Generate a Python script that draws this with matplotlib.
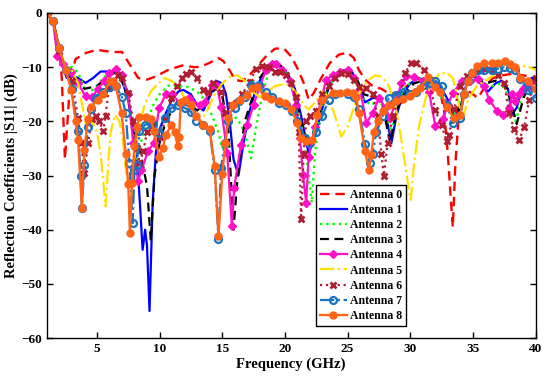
import matplotlib
matplotlib.use('Agg')
import matplotlib.pyplot as plt

plt.rcParams['font.family'] = ['Liberation Serif', 'DejaVu Serif']
plt.rcParams['font.weight'] = 'bold'

# ---- data (GHz, dB) ----
f0 = [1, 1.5, 2, 2.2, 2.45, 2.8, 3.0, 3.3, 4.1, 5.0, 6.2, 7.0, 7.7, 8.3, 9.0, 9.7, 10.7, 11.8, 12.8, 13.3,
      14.0, 14.7, 15.1, 15.65, 16.0, 16.55, 17.1, 17.8, 18.5, 19.2, 19.9, 20.5, 21.0, 21.5, 21.9, 22.3, 22.9,
      23.6, 24.3, 25.0, 25.5, 25.9, 26.4, 27.0, 27.7, 28.4, 29.2, 30.0, 30.8, 31.6, 32.3, 32.7, 33.0, 33.2,
      33.4, 33.6, 33.9, 34.4, 35.0, 35.4, 36.0, 36.6, 37.4, 38.2, 39.0, 39.7, 40]
s0 = [0, -1.5, -6.5, -12, -27, -15, -11, -8.5, -7.4, -6.8, -7.2, -7.2, -9.8, -12, -12.3, -11.7, -10.5, -9.7, -10,
      -9.9, -9.2, -8.3, -8.9, -10.8, -12.3, -12.6, -11.7, -9.8, -8, -6.6, -6.5, -8, -10.2, -12.9, -16, -14.8, -12,
      -9.2, -7.7, -7.3, -8.3, -10.5, -12.3, -13.5, -14, -15, -14.5, -13, -12.5, -12.5, -13.5, -18, -26, -33,
      -39.5, -28, -18, -14, -15, -15.7, -13.5, -12, -11.5, -11.2, -11.5, -11.8, -12]

f1 = [1, 1.5, 2, 2.3, 2.6, 3.0, 3.5, 4.1, 4.7, 5.3, 6.0, 6.5, 7.0, 7.5, 7.9, 8.3, 8.65, 8.85, 9.0, 9.2, 9.45,
      9.7, 10.0, 10.5, 11.0, 11.5, 11.9, 12.5, 13.0, 13.5, 14.0, 14.5, 15.0, 15.3, 15.6, 15.9, 16.3, 16.7, 17.2,
      17.7, 18.2, 18.7, 19.2, 19.7, 20.3, 20.8, 21.3, 21.9, 22.5, 23.0, 23.6, 24.2, 24.8, 25.4, 26.0, 26.4, 27.0,
      27.6, 28.0, 28.5, 28.9, 29.4, 30.0, 30.7, 31.2, 31.8, 32.4, 33.0, 33.5, 34.0, 34.5, 35.0, 35.6, 36.2, 36.8,
      37.3, 37.8, 38.1, 38.5, 38.9, 39.3, 39.7, 40]
s1 = [0, -1.5, -6.5, -10, -12, -11.5, -12, -12.9, -12, -10.8, -10.8, -11, -12.5, -16, -22, -30, -43.7, -40, -43,
      -55, -35, -26, -21.5, -18.5, -16, -14.5, -14.2, -15, -17, -18, -15.5, -12.5, -13, -15, -20, -27, -30, -24,
      -18, -14, -11.5, -9.8, -9.3, -9.8, -11.5, -14, -19, -26, -22, -17.5, -13, -11, -10.5, -11, -14, -16.5,
      -15.7, -15.7, -18, -24, -19, -15, -13, -12, -12.5, -12, -13.5, -16, -19, -17.5, -13, -11.5, -13, -14.5,
      -13, -12.5, -14, -18.8, -17.5, -14, -12.5, -12, -12]

f2 = [1, 1.5, 2, 2.5, 3.0, 3.5, 4.2, 4.8, 5.5, 6.0, 6.5, 7.0, 7.5, 7.8, 8.1, 8.5, 9.0, 9.5, 10.0, 10.7, 11.5,
      12.3, 13.0, 13.6, 14.2, 14.7, 15.0, 15.3, 15.7, 16.2, 16.8, 17.3, 17.7, 18.2, 18.7, 19.2, 19.8, 20.4, 21.0,
      21.5, 21.9, 22.15, 22.4, 22.8, 23.3, 23.9, 24.6, 25.2, 25.8, 26.3, 26.9, 27.5, 28.0, 28.5, 29.0, 29.5, 30.2,
      31.0, 31.7, 32.3, 33.0, 33.5, 34.0, 34.5, 35.0, 35.8, 36.5, 37.2, 37.8, 38.4, 38.9, 39.4, 40]
s2 = [0, -1.5, -6.5, -10, -10, -11, -14.8, -14, -12, -11, -10.5, -12, -16, -21, -27, -24, -20, -17, -15, -13.4,
      -13.5, -13.7, -14.5, -16, -19, -22, -25, -22, -19, -19.5, -22, -26.8, -21, -15, -11, -9.5, -10, -12.5, -17,
      -23, -30, -35, -26, -19, -14.5, -12, -11, -11.5, -13.5, -16, -17, -16, -18, -22, -17, -14, -12.5, -12,
      -12.5, -15, -17.5, -19, -16, -13, -12, -13, -13.5, -13, -15, -20, -16, -13, -12]

f3 = [1, 1.5, 2, 2.5, 3.0, 4.0, 5.0, 6.0, 6.5, 7.0, 7.5, 8.0, 8.5, 9.0, 9.3, 9.6, 10.0, 10.5, 11.0, 11.5, 12.0,
      12.5, 13.0, 13.5, 14.0, 14.5, 15.0, 15.5, 15.9, 16.3, 16.8, 17.5, 18.0, 18.8, 19.3, 20.0, 20.5, 21.0, 21.5,
      22.0, 22.5, 23.0, 23.5, 24.2, 25.0, 25.7, 26.3, 27.0, 27.7, 28.4, 28.9, 29.5, 30.3, 31.0, 31.7, 32.2, 33.0,
      33.5, 34.0, 34.5, 35.0, 36.0, 36.8, 37.5, 38.0, 38.5, 39.0, 39.5, 40]
s3 = [0, -1.5, -6.5, -11, -11.5, -14, -13.5, -11.5, -11, -12.5, -16, -22, -26, -32, -42, -30, -24, -20, -18, -16,
      -16, -17, -18, -17, -15, -14, -15, -22, -40, -28, -20, -15, -12, -9.5, -9, -10.5, -13, -17, -22, -24.5, -21,
      -17, -13.5, -11, -10.5, -12, -15, -15.5, -16, -24, -18, -15, -13, -12.5, -12.5, -14, -17, -19.5, -17, -13,
      -11.5, -13, -12.5, -13, -16, -20.5, -16, -13, -12]

f4 = [1, 1.5, 1.85, 2.3, 2.96, 3.5, 4.1, 4.6, 5.1, 5.6, 6.0, 6.5, 7.0, 7.5, 7.9, 8.28, 8.56, 9.07, 9.55, 9.97,
      10.5, 11.0, 11.6, 12.35, 13.2, 13.6, 14.2, 14.6, 14.9, 15.4, 15.77, 15.95, 16.5, 17.0, 17.5, 18.0, 18.5,
      19.0, 19.3, 19.8, 20.4, 20.9, 21.2, 21.45, 21.7, 21.9, 22.4, 22.9, 23.3, 23.8, 24.4, 25.0, 25.5, 26.0, 26.5,
      27.0, 27.5, 28.0, 28.4, 28.9, 29.3, 29.7, 30.3, 31.0, 31.5, 32.0, 32.6, 33.0, 33.4, 34.1, 34.8, 35.4, 35.9,
      36.3, 36.9, 37.4, 37.9, 38.1, 38.4, 38.7, 39.0, 39.5, 40]
s4 = [0, -1.5, -8, -9.5, -10.8, -13, -15.4, -15.5, -14, -12.5, -11, -10.3, -11.5, -15, -24, -31, -29, -25.5, -24,
      -17.5, -15, -15, -16.6, -15.7, -17, -16.5, -13.2, -13.5, -17.3, -25.8, -39.4, -32.3, -24.3, -20.6, -17,
      -13.5, -10.5, -9.5, -9.5, -10.5, -12.5, -17, -23, -29.9, -35, -26.5, -21, -16, -12.3, -11.5, -10.8, -10.5,
      -12, -14, -20.3, -18.5, -15.7, -17.5, -19.4, -16, -13, -11.7, -11.8, -12.5, -14.5, -20.8, -19.5, -17, -14.8,
      -12.6, -12.5, -12.2, -13.5, -16, -18, -18.8, -17.5, -15, -16.3, -15, -14, -13.5, -12.5]

f5 = [1, 1.5, 2, 2.5, 3.0, 3.5, 4.1, 4.6, 5.0, 5.3, 5.5, 5.7, 5.9, 6.1, 6.45, 6.8, 7.1, 7.35, 7.6, 7.9, 8.3, 8.8,
      9.3, 9.9, 10.4, 11.0, 11.6, 12.2, 12.8, 13.3, 13.8, 14.4, 15.0, 15.6, 16.2, 16.8, 17.4, 18.0, 18.6, 19.2,
      19.8, 20.4, 21.0, 21.5, 21.9, 22.4, 23.0, 23.5, 24.0, 24.5, 25.0, 25.5, 26.0, 26.6, 27.2, 27.75, 28.3, 28.8,
      29.2, 29.6, 29.85, 30.05, 30.3, 30.7, 31.2, 31.7, 32.3, 32.9, 33.4, 33.9, 34.2, 34.6, 35.3, 36.0, 37.0, 38.0,
      38.7, 39.3, 40]
s5 = [0, -1.5, -6.5, -10, -10.5, -13, -20.3, -20, -22, -26, -31, -35.7, -28, -22, -18.8, -20, -24, -30, -32, -28,
      -22, -17, -14.5, -13, -12, -12.6, -14, -16.5, -18.5, -20, -18, -15, -13, -11.8, -11.5, -12.5, -14.5, -15.5,
      -14.5, -13.5, -13.2, -13.3, -15, -17, -17.8, -16.5, -14.5, -15.5, -19, -22.8, -21, -17.5, -14.5, -12.5, -11.5,
      -11.8, -13.5, -17, -22, -28, -32, -34.5, -28, -21, -16, -13, -11.3, -11, -12, -17, -19.5, -16, -13.5, -12.5,
      -11, -10, -9.8, -9.8, -10.5]

f6 = [1, 1.5, 2, 2.5, 3.0, 3.5, 3.75, 4.0, 4.3, 4.6, 4.9, 5.2, 5.5, 5.7, 5.95, 6.3, 6.7, 7.0, 7.5, 7.9, 8.2, 8.4,
      8.7, 9.0, 9.5, 10.0, 10.5, 10.95, 11.4, 11.8, 12.1, 12.5, 13.0, 13.5, 13.9, 14.3, 14.9, 15.2, 15.7, 16.1,
      16.6, 17.2, 17.7, 18.2, 18.7, 19.2, 19.6, 20.05, 20.5, 20.9, 21.1, 21.3, 21.5, 21.7, 22.0, 22.5, 23.0, 23.5,
      24.0, 24.5, 25.0, 25.5, 25.9, 26.5, 27.0, 27.4, 27.7, 27.9, 28.2, 28.6, 29.1, 29.6, 30.1, 30.5, 31.1, 31.5,
      32.0, 32.5, 32.9, 33.1, 33.5, 34.0, 34.5, 35.0, 35.5, 36.0, 36.5, 37.0, 37.5, 37.9, 38.3, 38.7, 39.1, 39.5, 40]
s6 = [0, -1.5, -7, -10.5, -12.5, -19.4, -24, -29.5, -24, -19.5, -19, -20, -21.8, -19, -13.8, -12.5, -11.5, -12,
      -14.8, -20, -25, -27.7, -25.5, -22, -20.6, -22.8, -19.5, -15.7, -13.5, -12, -11.2, -10.9, -12, -14.3, -14.5,
      -12.9, -14.6, -18.5, -17, -16.7, -15, -12.7, -10.3, -9.7, -10, -10.8, -10.8, -11.4, -13, -15.5, -22, -38,
      -26, -20, -19, -18, -15, -13.5, -12, -11, -11.2, -12.3, -13.7, -13.8, -15, -19, -26, -30, -24, -19, -16,
      -11, -9.2, -9.2, -10.6, -12.3, -17.9, -20.7, -23.7, -22.5, -17.8, -13.5, -11.7, -10.8, -10.5, -10.3, -10.5,
      -11.5, -13, -18.5, -21.5, -23.4, -21, -16, -12]

f7 = [1, 1.5, 2, 2.5, 3.0, 3.5, 3.7, 3.8, 4.0, 4.3, 4.5, 4.9, 5.5, 6.0, 6.5, 7.0, 7.3, 7.6, 7.85, 8.0, 8.2, 8.4,
      8.85, 9.5, 9.97, 10.4, 10.95, 11.5, 12.0, 12.5, 12.9, 13.5, 14.0, 14.4, 14.7, 14.9, 15.2, 15.5, 16.0, 16.3,
      16.8, 17.3, 17.9, 18.5, 19.0, 19.5, 20.05, 20.6, 21.0, 21.6, 22.0, 22.5, 23.0, 23.5, 24.0, 25.0, 25.5, 25.9,
      26.4, 26.8, 27.0, 27.3, 27.8, 28.3, 28.9, 29.4, 30.0, 30.5, 31.1, 31.6, 32.0, 32.5, 32.9, 33.4, 34.0, 34.3,
      34.6, 34.9, 35.4, 35.9, 36.5, 37.0, 37.5, 38.0, 38.4, 38.8, 39.4, 40]
s7 = [0, -1.5, -6.5, -10.5, -14, -21.8, -30, -36, -28, -21, -17.8, -15.7, -14.5, -13.7, -13.5, -15.5, -18.5,
      -27.7, -38.8, -29, -28, -21.8, -20.6, -20.5, -22.2, -19.4, -17.5, -17, -17.5, -18.2, -20, -20.6, -21.8,
      -28.9, -41.8, -28.6, -24, -20, -17.5, -16.3, -15.5, -13.2, -13.2, -14.5, -15.5, -16.6, -16.9, -18, -20,
      -23, -24, -22, -19, -16, -15, -15, -15.5, -17.8, -24.1, -27.7, -26, -22, -19, -15.7, -15.1, -14.5, -15,
      -14.5, -13.2, -13, -12.6, -13.5, -16.9, -20.3, -19.4, -15, -12.5, -11, -10.5, -10.5, -10.5, -10.3, -10,
      -10.2, -10.5, -12.2, -14.2, -15.7]

f8 = [1, 1.5, 2, 2.5, 2.96, 3.3, 3.5, 3.8, 4.0, 4.3, 4.5, 5.06, 5.5, 6.04, 6.3, 6.5, 6.97, 7.3, 7.5, 7.64, 7.8,
      8.0, 8.2, 8.4, 8.9, 9.3, 9.55, 9.97, 10.25, 10.5, 10.95, 11.2, 11.45, 11.55, 11.7, 12.07, 12.5, 12.9, 13.5,
      14.0, 14.4, 14.7, 15.0, 15.25, 15.5, 15.9, 16.4, 17.0, 17.4, 17.8, 18.4, 18.9, 19.5, 20.0, 20.5, 21.0, 21.3,
      21.7, 22.2, 22.6, 23.0, 23.8, 24.4, 24.95, 25.4, 25.7, 25.9, 26.4, 26.7, 26.9, 27.1, 27.4, 27.8, 28.3, 28.9,
      29.4, 30.0, 30.4, 30.8, 31.45, 31.96, 32.4, 32.9, 33.5, 34.0, 34.3, 34.6, 34.9, 35.3, 35.9, 36.5, 37.0, 37.6,
      38.0, 38.4, 38.8, 39.4, 40]
s8 = [0, -1.5, -6.5, -10.5, -14.2, -20, -23.4, -36, -25.2, -19.5, -17.4, -16, -15, -12.6, -12.5, -13.4, -18.5,
      -26, -31.5, -40.6, -31.4, -24.6, -21, -19.2, -19.2, -19.5, -21.8, -26.5, -25, -22.5, -20.7, -22, -24.6,
      -22.8, -16.5, -16, -17, -19.1, -20.6, -21.5, -28.3, -41.2, -29.8, -24, -19.4, -17, -16, -15.1, -13.8, -13.7,
      -15.4, -15.9, -16.3, -16.6, -17.8, -20.3, -23.1, -23.7, -23.5, -18.8, -16, -14.8, -14.8, -14.6, -14.8, -15.5,
      -18.5, -25.5, -28.9, -26.2, -22, -20, -18, -16.9, -16.3, -15.9, -15.4, -14.5, -13.8, -11.8, -13.7, -14.5,
      -17.4, -19.4, -18.8, -15, -12.5, -11, -9.8, -9.2, -9.3, -9.3, -8.9, -9.5, -10, -12, -12.6, -14]

labels = ['Antenna %d' % i for i in range(9)]

fig = plt.figure(figsize=(5.5, 3.82), dpi=100)
ax = fig.add_axes([0.085, 0.115, 0.8887, 0.851])

ax.plot(f0, s0, color='#FF0000', ls=(0, (4, 2.5)), lw=1.7, label=labels[0])
ax.plot(f1, s1, color='#0000FF', ls='-', lw=1.6, label=labels[1])
ax.plot(f2, s2, color='#00FF00', ls=':', lw=1.7, label=labels[2])
ax.plot(f3, s3, color='black', ls=(0, (4, 2.5)), lw=1.6, label=labels[3])
ax.plot(f4, s4, color='#FF10C8', ls='-', lw=1.6, marker='D', ms=4, label=labels[4])
ax.plot(f5, s5, color='#FFE000', ls='-.', lw=1.6, label=labels[5])
ax.plot(f6, s6, color='#B01E32', ls=':', lw=1.6, marker='x', ms=4.5, mew=2, label=labels[6])
ax.plot(f7, s7, color='#1A72C0', ls='-.', lw=1.6, marker='o', ms=5, mfc='none', mew=1.6, label=labels[7])
ax.plot(f8, s8, color='#FF6417', ls='-', lw=1.7, marker='o', ms=5, label=labels[8])

ax.set_xlim(1, 40)
ax.set_ylim(-60, 0)
ax.set_xticks([5, 10, 15, 20, 25, 30, 35, 40])
ax.set_yticks([-60, -50, -40, -30, -20, -10, 0])
ax.tick_params(direction='in', top=True, right=True, labelsize=9.5, width=1, length=4)
for sp in ax.spines.values():
    sp.set_linewidth(1.0)

ax.set_xlabel('Frequency (GHz)', fontsize=10.5, fontweight='bold', labelpad=2)
ax.set_ylabel('Reflection Coefficients |S11| (dB)', fontsize=10.5, fontweight='bold', labelpad=2)

leg = ax.legend(loc='lower left', bbox_to_anchor=(0.551, 0.038), fontsize=8.5, handlelength=2.3,
                labelspacing=0.27, borderpad=0.3, handletextpad=0.3, fancybox=False, framealpha=1,
                edgecolor='black', borderaxespad=0)
leg.get_frame().set_linewidth(1.0)

fig.savefig('out.png', dpi=100)
